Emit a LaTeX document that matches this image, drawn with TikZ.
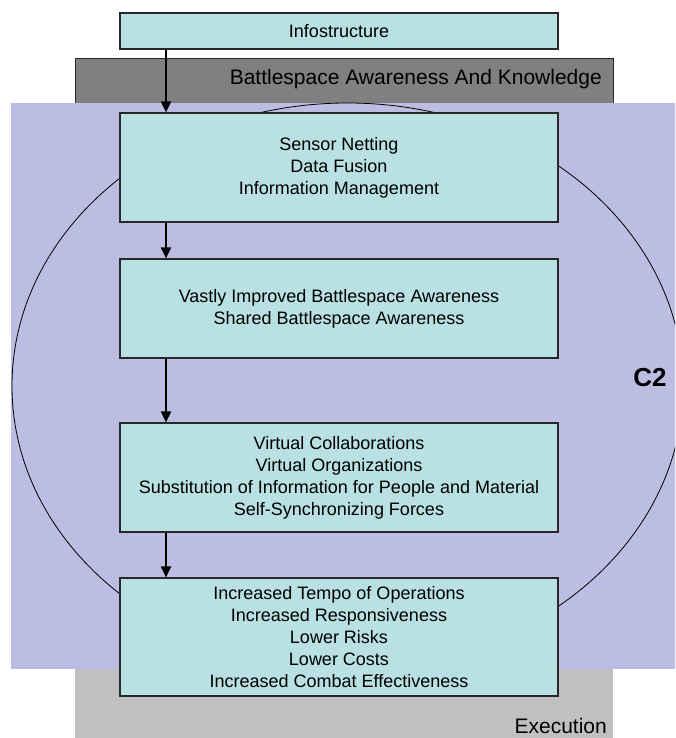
\documentclass[tikz,border=0pt]{standalone}
\usepackage{fontspec}
\setmainfont{Liberation Sans}
\usetikzlibrary{arrows.meta}
\definecolor{boxfill}{RGB}{185,224,227}
\definecolor{lav}{RGB}{187,189,226}
\definecolor{dgray}{RGB}{128,128,128}
\definecolor{lgray}{RGB}{192,192,192}
\definecolor{edge}{RGB}{40,40,40}
\begin{document}
\begin{tikzpicture}[x=1pt,y=-1pt,
  flowbox/.style={draw=edge, line width=1.2pt, fill=boxfill, minimum width=438pt,
    inner sep=0pt, align=center, font=\fontsize{18}{22}\selectfont},
  arr/.style={line width=2pt, -{Triangle[length=11pt,width=10pt]}},
  band/.style={font=\fontsize{21}{24}\selectfont, anchor=east, inner sep=0pt}]
\useasboundingbox (0,0) rectangle (675,738);
\clip (0,0) rectangle (675,738);
% background bands
\fill[lgray] (75,600) rectangle (613,738);
\draw[fill=dgray, draw=edge, line width=0.8pt] (75,58) rectangle (613,140);
\fill[lav] (11,103) rectangle (690,669);
\draw[line width=0.8pt] (347.6,386) ellipse [x radius=335.6, y radius=283];
\node[band] (bak) at (602,79) {Battlespace Awareness And Knowledge};
\node[band] (exe) at (607,726) {Execution};
\node[font=\fontsize{26}{30}\selectfont\bfseries, inner sep=0pt] (c2) at (650,378) {C2};
% flow boxes
\node[flowbox, minimum height=36pt] (info) at (339,31) {Infostructure};
\node[flowbox, minimum height=109pt] (b1) at (339,167.5) {Sensor Netting\\Data Fusion\\Information Management};
\node[flowbox, minimum height=99pt] (b2) at (339,308.5) {Vastly Improved Battlespace Awareness\\Shared Battlespace Awareness};
\node[flowbox, minimum height=109pt] (b3) at (339,477.5) {Virtual Collaborations\\Virtual Organizations\\Substitution of Information for People and Material\\Self-Synchronizing Forces};
\node[flowbox, minimum height=118pt] (b4) at (339,637) {Increased Tempo of Operations\\Increased Responsiveness\\Lower Risks\\Lower Costs\\Increased Combat Effectiveness};
% connectors
\coordinate (ax) at (166,0);
\draw[arr] (info.south -| ax) -- (b1.north -| ax);
\draw[arr] (b1.south -| ax) -- (b2.north -| ax);
\draw[arr] (b2.south -| ax) -- (b3.north -| ax);
\draw[arr] (b3.south -| ax) -- (b4.north -| ax);
\end{tikzpicture}
\end{document}
